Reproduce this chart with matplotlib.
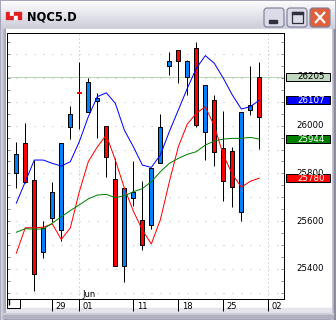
import numpy as np
import matplotlib
matplotlib.use('Agg')
import matplotlib.pyplot as plt
from matplotlib.patches import Rectangle, FancyBboxPatch

plt.rcParams['font.family'] = ['DejaVu Sans']

title = "NQC5.D"
opens  = [25881, 25765, 25377, 25572, 25722, 25926, 26049, 26138, 26182, 26115,
          25870, 25412, 25738, 25721, 25499, 25824, 25993, 26271, 26271, 26271,
          26003, 26171, 25888, 25769, 25742, 26056, 26086, 26035]
highs  = [25933, 26011, 25856, 25602, 25765, 25926, 26084, 26268, 26201, 26137,
          25999, 25863, 25738, 25852, 25768, 25824, 26049, 26308, 26316, 26275,
          26352, 26171, 26129, 26062, 25911, 26056, 26250, 26266]
lows   = [25738, 25761, 25307, 25444, 25597, 25517, 25943, 25986, 26059, 25950,
          25786, 25412, 25346, 25665, 25478, 25566, 25842, 26213, 26178, 26129,
          25996, 25856, 25832, 25686, 25660, 25602, 26045, 25901]
closes = [25802, 25926, 25772, 25472, 25612, 25563, 25995, 26142, 26059, 26105,
          25999, 25777, 25412, 25696, 25603, 25582, 25842, 26252, 26316, 26205,
          26325, 25975, 26107, 25905, 25894, 25637, 26065, 26205]
ma_blue  = [25675, 25765, 25856, 25856, 25842, 25831, 25849, 25933, 26038, 26122,
            26138, 26094, 25982, 25912, 25835, 25825, 25877, 25975, 26066, 26157,
            26241, 26294, 26262, 26199, 26129, 26070, 26080, 26107]
ma_red   = [25465, 25572, 25572, 25574, 25588, 25523, 25571, 25723, 25849, 25911,
            25961, 25856, 25739, 25642, 25563, 25504, 25605, 25764, 25912, 26007,
            26052, 26080, 25999, 25877, 25797, 25742, 25767, 25780]
ma_green = [25553, 25568, 25566, 25567, 25591, 25618, 25644, 25668, 25693, 25709,
            25712, 25698, 25706, 25723, 25736, 25765, 25807, 25842, 25863, 25880,
            25891, 25919, 25936, 25944, 25947, 25947, 25951, 25944]
tick_pos = [4, 7, 13, 18, 23, 28]
tick_labels = ['29', '01', '11', '18', '25', '02']
month_pos = 7
month_label = 'Jun'
price_levels = [25400, 25600, 25800, 26000, 26200]
last_price = 26205

UP = '#FF0000'
DOWN = '#0080FF'
W, H = 336, 320
LW = 0.72

fig = plt.figure(figsize=(W / 100, H / 100), dpi=100)

# ---------- window decoration (pixel coordinates) ----------
bg = fig.add_axes([0, 0, 1, 1])
bg.set_xlim(0, W)
bg.set_ylim(H, 0)
bg.axis('off')
bg.add_patch(Rectangle((0, 0), W, H, color='#A4A4B8', zorder=0))
# title bar gradient
grad = np.linspace(0, 1, 64)[:, None]
c_top = np.array([0.99, 0.99, 1.0])
c_bot = np.array([0.80, 0.80, 0.85])
img = c_top + (c_bot - c_top) * grad[..., None] * np.ones((1, 2, 1))
bg.imshow(img, extent=[1, W - 1, 29, 1], aspect='auto', zorder=1)
# side frame strips
for (x0, w, col) in [(1, 2, '#D0D0DC'), (3, 2, '#B8B8C8'), (5, 1, '#8C8CA0')]:
    bg.add_patch(Rectangle((x0, 29), w, H - 30, color=col, zorder=1))
for (x0, w, col) in [(331, 1, '#D8D8E0'), (332, 2, '#B8B8C8'), (334, 1, '#8C8CA0')]:
    bg.add_patch(Rectangle((x0, 29), w, H - 30, color=col, zorder=1))
bg.add_patch(Rectangle((6, 29), 325, 284, color='white', zorder=1))
bg.add_patch(Rectangle((6, 308), 325, 5, color='#E4E4EA', zorder=1))
bg.add_patch(Rectangle((3, 313), W - 6, 2, color='#D0D0DC', zorder=1))
bg.add_patch(Rectangle((3, 315), W - 6, 3, color='#B0B0C0', zorder=1))
# icon
for (ix, iy, col) in [(6, 12, '#E02020'), (10, 12, '#FFFFFF'), (14, 12, '#E02020'),
                      (18, 12, '#E02020'), (6, 16, '#E02020'), (10, 16, '#E02020'),
                      (14, 16, '#FFFFFF'), (18, 16, '#E02020')]:
    bg.add_patch(Rectangle((ix, iy), 3, 3, color=col, zorder=2))
bg.text(27, 16.5, title, fontsize=8.3, fontweight='bold', color='black',
        ha='left', va='center', zorder=3)
# buttons
for (bx, face) in [(264, '#DCDCE8'), (287, '#DCDCE8'), (310, '#E0603C')]:
    bg.add_patch(FancyBboxPatch((bx, 8), 20, 19, boxstyle='round,pad=0,rounding_size=3',
                                facecolor=face, edgecolor='#7C7C98', linewidth=0.8, zorder=2))
bg.add_patch(Rectangle((269, 20), 8, 2.5, color='#303040', zorder=3))
bg.add_patch(Rectangle((292, 12), 11, 11, facecolor='none', edgecolor='#303040', linewidth=0.9, zorder=3))
bg.add_patch(Rectangle((292, 12), 11, 2, color='#303040', zorder=3))
bg.plot([315, 325], [12, 23], color='white', lw=1.6, zorder=3, solid_capstyle='butt')
bg.plot([315, 325], [23, 12], color='white', lw=1.6, zorder=3, solid_capstyle='butt')

# ---------- chart ----------
L, R, T, B = 7, 284, 33, 299
ax = fig.add_axes([L / W, 1 - B / H, (R - L) / W, (B - T) / H])
ax.set_facecolor('white')
x = np.arange(len(opens))
ax.set_xlim(-1.033, 29.74)
ax.set_ylim(25273, 26389)

for s in ax.spines.values():
    s.set_color('black')
    s.set_linewidth(LW)

# grid
for lv in range(25300, 26400, 100):
    ax.axhline(lv, color='#B8B8B8', lw=LW, ls=(0, (1, 8)), zorder=0)
for p in [month_pos, tick_pos[-1]]:
    ax.axvline(p, color='#B8B8B8', lw=LW, ls=(0, (1, 3)), zorder=0)

ax.axhline(last_price, color='#B8D8B8', lw=LW, zorder=1)

# candles
o = np.array(opens); c = np.array(closes)
cols = [UP if cc >= oo else DOWN for oo, cc in zip(o, c)]
ax.vlines(x, lows, highs, color='black', lw=LW, zorder=2)
bottoms = np.minimum(o, c)
heights = np.abs(c - o)
edges = ['black' if h > 6 else col for h, col in zip(heights, cols)]
ax.bar(x, heights, bottom=bottoms, width=0.47, color=cols, edgecolor=edges,
       linewidth=LW, zorder=3)

ax.plot(x, ma_blue, color='#0000FF', lw=LW, zorder=4)
ax.plot(x, ma_red, color='#FF0000', lw=LW, zorder=4)
ax.plot(x, ma_green, color='#008000', lw=LW, zorder=4)

# axes ticks
ax.set_yticks(np.arange(25300, 26400, 50))
ax.yaxis.set_ticks_position('both')
ax.tick_params(axis='y', direction='in', length=2.2, width=LW, color='#909090',
               labelleft=False, labelright=False)
ax.set_xticks(tick_pos)
ax.tick_params(axis='x', direction='out', length=8.5, width=LW, color='black',
               labelbottom=False)

xt = ax.get_xaxis_transform()
for p, lab in zip(tick_pos, tick_labels):
    ax.text(p + 0.38, -0.028, lab, transform=xt, fontsize=6, ha='left', va='center',
            clip_on=False)
ax.text(month_pos + 0.38, 0.017, month_label, transform=xt, fontsize=6, ha='left',
        va='center', zorder=6)

# right price scale
yt = ax.get_yaxis_transform()
def fx(px):
    return (px - L) / (R - L)
for lv in price_levels:
    ax.text(fx(323.5), lv, f'{lv}', transform=yt, fontsize=6.2, ha='right',
            va='center', clip_on=False)
boxes = [(last_price, '#C0D8C0', 'black'),
         (ma_blue[-1], '#0000FF', 'white'),
         (ma_green[-1], '#008000', 'white'),
         (ma_red[-1], '#FF0000', 'white')]
bh = 8 / 0.2385
for val, face, tc in boxes:
    ax.add_patch(Rectangle((fx(286), val - bh / 2), fx(330) - fx(286), bh,
                           transform=yt, facecolor=face, edgecolor='black',
                           linewidth=LW, clip_on=False, zorder=7))
    ax.text(fx(325), val, f'{val}', transform=yt, fontsize=6.2, ha='right',
            va='center', color=tc, clip_on=False, zorder=8)

# bottom-left small box
bg.add_patch(Rectangle((7, 293), 12.5, 14.5, facecolor='white', edgecolor='black',
                       linewidth=LW, zorder=10))
bg.add_patch(Rectangle((8.5, 297), 0.8, 8, color='black', zorder=11))

fig.savefig('out.png', dpi=100)
